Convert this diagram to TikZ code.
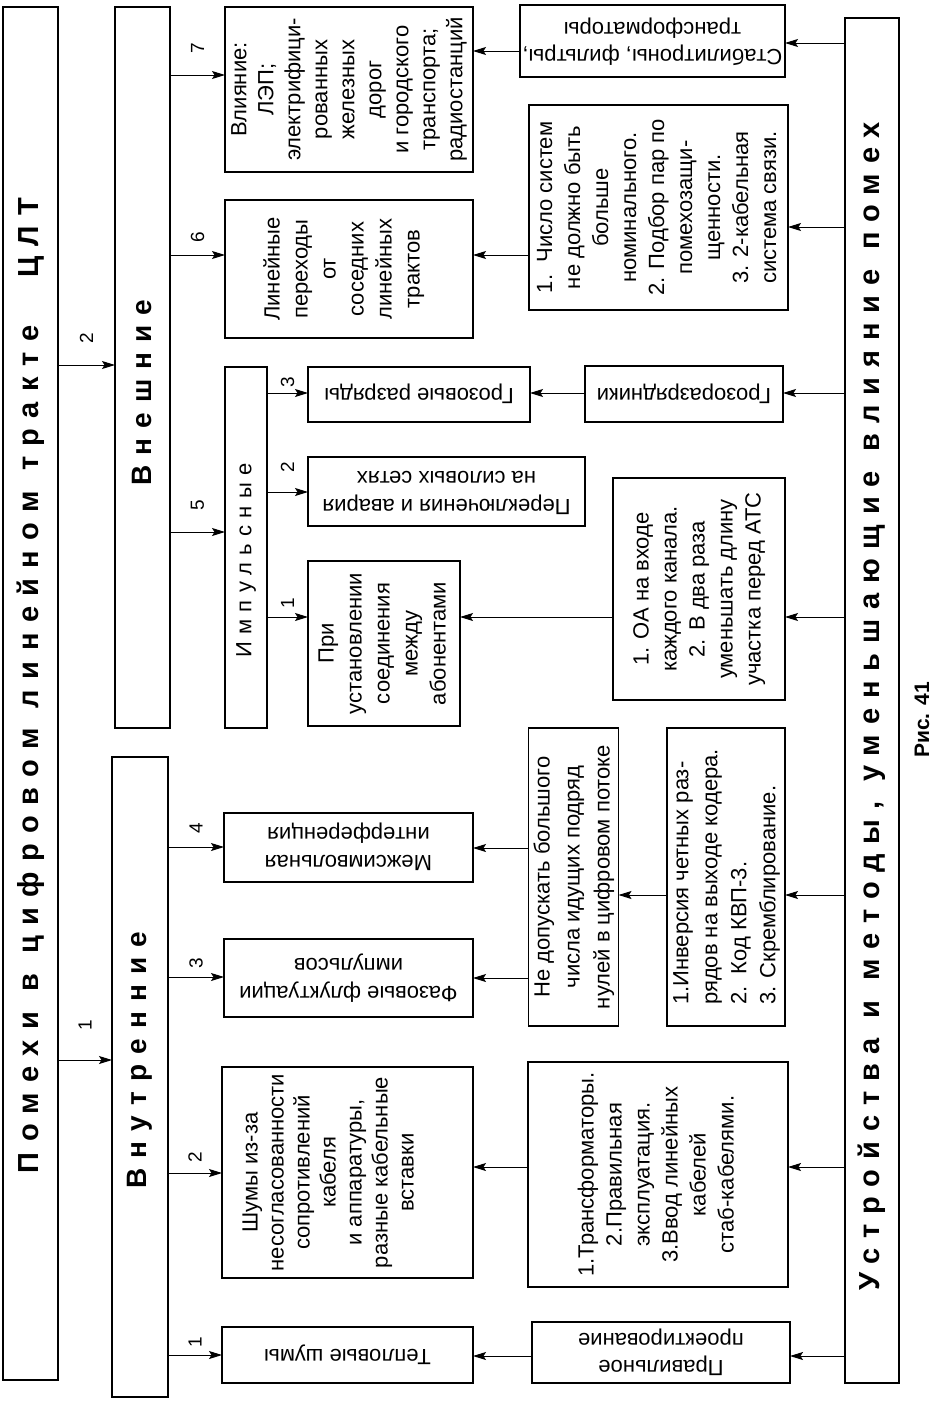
\documentclass[tikz,border=0pt]{standalone}
\usepackage{graphicx}
\usepackage{fontspec}
\setmainfont{Liberation Sans}
\newfontfamily\ttlfont[LetterSpace=36]{Liberation Sans}
\newfontfamily\ttlA[LetterSpace=36]{Liberation Sans}
\newfontfamily\ttlB[LetterSpace=34]{Liberation Sans}
\newfontfamily\impfont[LetterSpace=33]{Liberation Sans}
\usetikzlibrary{arrows.meta}
\newcommand{\vtx}[2][c]{\rotatebox{90}{\begin{tabular}{@{}#1@{}}#2\end{tabular}}}
\newcommand{\utx}[1]{\rotatebox{180}{\begin{tabular}{@{}c@{}}#1\end{tabular}}}
\newcommand{\wg}{\hspace{20pt}}
\begin{document}
\begin{tikzpicture}[x=1pt,y=1pt,
  bx/.style n args={4}{at={({(#1+#3)/2},{-(#2+#4)/2})}, minimum width={(#3-#1)*1pt}, minimum height={(#4-#2)*1pt}},
  box/.style={draw, line width=1.2pt, inner sep=0pt, outer sep=0pt, font=\fontsize{22}{28}\selectfont},
  tbox/.style={draw, line width=1.8pt, inner sep=0pt, outer sep=0pt},
  arr/.style={line width=1pt, -{Stealth[length=13pt,width=8pt,inset=2.5pt]}},
  lbl/.style={inner sep=0pt, font=\fontsize{19}{19}\selectfont}]
\fill[white] (0,0) rectangle (938,-1403);
\useasboundingbox (0,0) rectangle (938,-1403);

% title boxes
\node[tbox, bx={3}{7}{58}{1380}] (main) {\rotatebox{90}{\ttlA\bfseries\fontsize{29}{34}\selectfont\hspace{16pt}Помехи\wg в\wg цифровом\wg линейном\wg тракте\hspace{48pt}ЦЛТ}};
\node[tbox, bx={112}{757}{168}{1397}] (vnutr) {\rotatebox{90}{\ttlfont\bfseries\fontsize{28}{34}\selectfont\hspace{34pt}Внутренние}};
\node[tbox, bx={115}{7}{170}{728}] (vnesh) {\rotatebox{90}{\ttlfont\bfseries\fontsize{28}{34}\selectfont Внешние\hspace{50pt}}};
\node[tbox, bx={845}{18}{899}{1383}] (ustr) {\rotatebox{90}{\ttlB\bfseries\fontsize{29}{34}\selectfont Устройства\wg и\wg методы,\wg уменьшающие\wg влияние\wg помех\hspace{12pt}}};

% internal
\node[box, bx={222}{1327}{473}{1383}] (teplo) {\utx{Тепловые шумы}};
\node[box, bx={222}{1067}{473}{1278}, font=\fontsize{22}{26}\selectfont] (shumy) {\vtx{Шумы из-за\\несогласованности\\сопротивлений\\кабеля\\и аппаратуры,\\разные кабельные\\вставки}\kern34pt};
\node[box, bx={224}{939}{473}{1017}] (faz) {\utx{Фазовые флуктуации\\импульсов}};
\node[box, bx={224}{813}{473}{882}] (mezh) {\utx{Межсимвольная\\интерференция}};

% external
\node[box, bx={225}{367}{267}{728}] (imp) {\rotatebox{90}{\impfont\fontsize{22}{26}\selectfont Импульсные\hspace{26pt}}};
\node[box, bx={308}{561}{460}{726}] (pri) {\vtx{При\\установлении\\соединения\\между\\абонентами}};
\node[box, bx={308}{457}{585}{526}] (perekl) {\utx{Переключения и авария\\на силовых сетях}};
\node[box, bx={308}{367}{530}{422}] (groz) {\utx{Грозовые разряды}};
\node[box, bx={225}{200}{473}{338}] (lin) {\vtx{Линейные\\переходы\\от\\соседних\\линейных\\трактов}\kern10pt};
\node[box, bx={225}{7}{473}{172}, font=\fontsize{22}{27}\selectfont] (vliyan) {\vtx{Влияние:\\ЛЭП;\\электрифици-\\рованных\\железных\\дорог\\и городского\\транспорта;\\радиостанций}};

% methods
\node[box, bx={532}{1322}{790}{1383}, font=\fontsize{22}{27}\selectfont] (mprav) {\utx{Правильное\\проектирование}};
\node[box, bx={528}{1062}{788}{1287}] (mtrans) {\vtx{1.Трансформаторы.\\2.Правильная\\эксплуатация.\\3.Ввод линейных\\кабелей\\стаб-кабелями.}};
\node[box, bx={529}{728}{618}{1026}, font=\fontsize{22}{30}\selectfont] (mnedop) {\vtx{Не допускать большого\\числа идущих подряд\\нулей в цифровом потоке}};
\node[box, bx={667}{728}{785}{1026}, font=\fontsize{22}{29}\selectfont] (minv) {\vtx[l]{1.Инверсия четных раз-\\рядов на выходе кодера.\\2.\ \ Код КВП-3.\\3. Скремблирование.}};
\node[box, bx={613}{478}{785}{700}] (moa) {\vtx{1. ОА на входе\\каждого канала.\\2. В два раза\\уменьшать длину\\участка перед АТС}};
\node[box, bx={585}{366}{783}{422}] (mgrozr) {\utx{Грозоразрядники}};
\node[box, bx={529}{105}{788}{310}] (mchislo) {\vtx{1.\ \ Число систем\\не должно быть\\больше\\номинального.\\2. Подбор пар по\\помехозащи-\\щенности.\\3. 2-кабельная\\система связи.}};
\node[box, bx={520}{5}{785}{77}, font=\fontsize{22}{27}\selectfont] (mstab) {\utx{Стабилитроны, фильтры,\\трансформаторы}};

\node[inner sep=0pt, font=\fontsize{21}{21}\selectfont\bfseries] (cap) at (922,-720) {\rotatebox{90}{Рис. 41}};

% connectors: main
\draw[arr] (main.east |- 0,-1060) -- (vnutr.west |- 0,-1060) node[lbl, midway, above=29pt] {\rotatebox{90}{1}};
\draw[arr] (main.east |- 0,-365) -- (vnesh.west |- 0,-365) node[lbl, midway, above=21pt] {\rotatebox{90}{2}};
% internal
\draw[arr] (vnutr.east |- 0,-1355) -- (teplo.west |- 0,-1355) node[lbl, midway, above=7pt] {\rotatebox{90}{1}};
\draw[arr] (vnutr.east |- 0,-1173) -- (shumy.west |- 0,-1173) node[lbl, midway, above=10pt] {\rotatebox{90}{2}};
\draw[arr] (vnutr.east |- 0,-977) -- (faz.west |- 0,-977) node[lbl, midway, above=8pt] {\rotatebox{90}{3}};
\draw[arr] (vnutr.east |- 0,-847) -- (mezh.west |- 0,-847) node[lbl, midway, above=13pt] {\rotatebox{90}{4}};
% external
\draw[arr] (vnesh.east |- 0,-532) -- (imp.west |- 0,-532) node[lbl, midway, above=21pt] {\rotatebox{90}{5}};
\draw[arr] (vnesh.east |- 0,-255) -- (lin.west |- 0,-255) node[lbl, midway, above=12pt] {\rotatebox{90}{6}};
\draw[arr] (vnesh.east |- 0,-75) -- (vliyan.west |- 0,-75) node[lbl, midway, above=21pt] {\rotatebox{90}{7}};
\draw[arr] (imp.east |- 0,-617) -- (pri.west |- 0,-617) node[lbl, midway, above=8pt] {\rotatebox{90}{1}};
\draw[arr] (imp.east |- 0,-492) -- (perekl.west |- 0,-492) node[lbl, midway, above=19pt] {\rotatebox{90}{2}};
\draw[arr] (imp.east |- 0,-393) -- (groz.west |- 0,-393) node[lbl, midway, above=5pt] {\rotatebox{90}{3}};
% methods
\draw[arr] (ustr.west |- 0,-1356) -- (mprav.east |- 0,-1356);
\draw[arr] (mprav.west |- 0,-1356) -- (teplo.east |- 0,-1356);
\draw[arr] (ustr.west |- 0,-1167) -- (mtrans.east |- 0,-1167);
\draw[arr] (mtrans.west |- 0,-1167) -- (shumy.east |- 0,-1167);
\draw[arr] (ustr.west |- 0,-895) -- (minv.east |- 0,-895);
\draw[arr] (minv.west |- 0,-895) -- (mnedop.east |- 0,-895);
\draw[arr] (mnedop.west |- 0,-848) -- (mezh.east |- 0,-848);
\draw[arr] (mnedop.west |- 0,-978) -- (faz.east |- 0,-978);
\draw[arr] (ustr.west |- 0,-617) -- (moa.east |- 0,-617);
\draw[arr] (moa.west |- 0,-617) -- (pri.east |- 0,-617);
\draw[arr] (ustr.west |- 0,-393) -- (mgrozr.east |- 0,-393);
\draw[arr] (mgrozr.west |- 0,-393) -- (groz.east |- 0,-393);
\draw[arr] (ustr.west |- 0,-227) -- (mchislo.east |- 0,-227);
\draw[arr] (mchislo.west |- 0,-255) -- (lin.east |- 0,-255);
\draw[arr] (ustr.west |- 0,-43) -- (mstab.east |- 0,-43);
\draw[arr] (mstab.west |- 0,-51) -- (vliyan.east |- 0,-51);
\end{tikzpicture}
\end{document}
